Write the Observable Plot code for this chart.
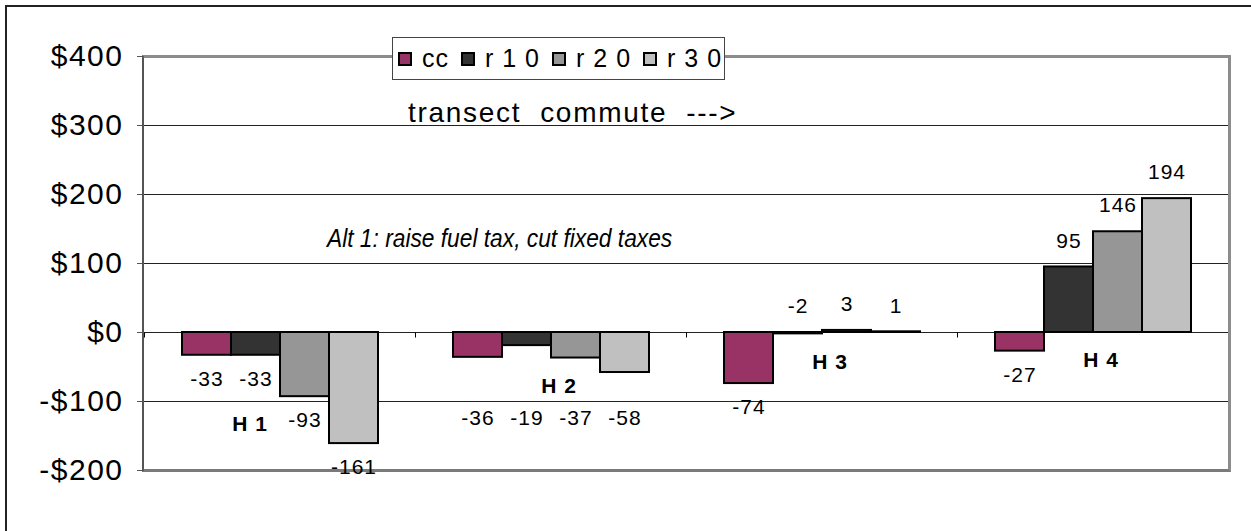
<!DOCTYPE html>
<html>
<head>
<meta charset="utf-8">
<script src="https://cdn.jsdelivr.net/npm/d3@7"></script>
<script src="https://cdn.jsdelivr.net/npm/@observablehq/plot@0.6"></script>
<style>
  body { margin: 0; background: #fff; font-family: "Liberation Sans", Arial, sans-serif; }
  #wrap { position: relative; width: 1251px; height: 531px; overflow: hidden; background: #fff; }
  #outer { position: absolute; left: 5px; top: 5px; width: 1400px; height: 700px;
           border-left: 2px solid #222; border-top: 2px solid #222; }
  #pframe { position: absolute; box-sizing: border-box;
            border-left: 2px solid #555; border-top: 3px solid #8c8c8c;
            border-right: 3px solid #8c8c8c; border-bottom: 3px solid #7a7a7a; }
  #chart { position: absolute; left: 0; top: 0; }
  #chart svg { background: transparent !important; }
  g[aria-label="y-axis tick label"] text { letter-spacing: 1.5px; }
  g[aria-label="text"] text { letter-spacing: 1px; }
  .note { position: absolute; white-space: pre; color: #000; line-height: 1; transform-origin: left top; }
  #legend { position: absolute; left: 392px; top: 37px; width: 333px; height: 43px; box-sizing: border-box;
            border: 1.5px solid #444; background: #fff; display: flex; align-items: center; padding-left: 5px;
            font-size: 25px; letter-spacing: 1px; z-index: 3; }
  #legend .sw { width: 14px; height: 14px; box-sizing: border-box; border: 2px solid #000; margin-right: 10px; flex: none; }
  #legend .lb { margin-right: 12px; white-space: pre; }
</style>
</head>
<body>
<div id="wrap">
  <div id="outer"></div>
  <div id="pframe"></div>
  <div id="chart"></div>
  <div id="legend"></div>
  <div class="note" id="n1" style="left:408px; top:99px; font-size:28px; letter-spacing:1.7px;">transect  commute  ---&gt;</div>
  <div class="note" id="n2" style="left:327px; top:226px; font-size:25px; font-style:italic; transform: scaleX(0.91);">Alt 1: raise fuel tax, cut fixed taxes</div>
</div>
<script>
// ---- data ----
const categories = ["H 1", "H 2", "H 3", "H 4"];
const seriesNames = ["cc", "r10", "r20", "r30"];
const legendLabels = ["cc", "r 1 0", "r 2 0", "r 3 0"];
const cc  = [-33, -36, -74, -27];
const r10 = [-33, -19, -2, 95];
const r20 = [-93, -37, 3, 146];
const r30 = [-161, -58, 1, 194];
const yTicks = [-200, -100, 0, 100, 200, 300, 400];
const colors = ["#993366", "#333333", "#969696", "#C0C0C0"];

// ---- layout ----
const W = 1251, H = 531;
const mLeft = 143, mRight = 22, mTop = 56, mBottom = 61;

const seriesValues = [cc, r10, r20, r30];
const rows = [];
categories.forEach((c, i) => seriesNames.forEach((s, j) => {
  const vals = seriesValues.map(a => a[i]);
  rows.push({cat: c, ser: s, v: seriesValues[j][i], shallow: vals.every(v => v <= 0 && v > -60), gmin: Math.min(...vals)});
}));
const above = rows.filter(d => d.v > -5);
const belowDeep = rows.filter(d => d.v <= -5 && !d.shallow);
const belowRow = rows.filter(d => d.v <= -5 && d.shallow);
const catRows = categories.map((c, i) => ({cat: c, low: Math.min(0, r10[i], r20[i])}));

const fmt = d => (d < 0 ? "-" : "") + "$" + Math.abs(d);
const tickSymbol = { draw(ctx) { ctx.moveTo(0, 0); ctx.lineTo(0, 5); } };

const chart = Plot.plot({
  width: W, height: H,
  marginLeft: mLeft, marginRight: mRight, marginTop: mTop, marginBottom: mBottom,
  style: { background: "transparent", fontFamily: "Liberation Sans, Arial, sans-serif", color: "#000" },
  fx: { domain: categories, padding: 0, axis: null },
  x: { domain: seriesNames, paddingInner: 0, paddingOuter: 0.75, axis: null },
  y: { domain: [-200, 400], axis: null },
  color: { domain: seriesNames, range: colors },
  marks: [
    Plot.ruleY(yTicks.filter(t => t > -200 && t < 400), { stroke: "#222", strokeWidth: 1 }),
    Plot.axisY({ ticks: yTicks, tickFormat: fmt, tickSize: 7, tickPadding: 14, fontSize: 30, stroke: "#555" }),
    Plot.barY(rows, { fx: "cat", x: "ser", y1: 0, y2: "v", fill: "ser", stroke: "#000", strokeWidth: 2 }),
    Plot.dot(catRows, { fx: "cat", y: () => 0, frameAnchor: "left", symbol: tickSymbol, fill: "none", stroke: "#000", strokeWidth: 1 }),
    Plot.text(above, { fx: "cat", x: "ser", y: d => Math.max(0, d.v), text: d => String(d.v), dy: -26, fontSize: 21, fill: "#000" }),
    Plot.text(belowDeep, { fx: "cat", x: "ser", y: "v", text: d => String(d.v), dy: 24, fontSize: 21, fill: "#000" }),
    Plot.text(belowRow, { fx: "cat", x: "ser", y: "gmin", text: d => String(d.v), dy: 46, fontSize: 21, fill: "#000" }),
    Plot.text(catRows.filter(d => d.low < -60), { fx: "cat", y: "low", text: "cat", dy: 28, dx: -30, fontSize: 21, fontWeight: "bold", fill: "#000" }),
    Plot.text(catRows.filter(d => d.low >= -60), { fx: "cat", y: "low", text: "cat", dy: 28, dx: 8, fontSize: 21, fontWeight: "bold", fill: "#000" })
  ]
});
document.getElementById("chart").appendChild(chart);

// plot frame aligned with margins
const pf = document.getElementById("pframe");
pf.style.left = (mLeft - 1) + "px";
pf.style.top = (mTop - 1.5) + "px";
pf.style.width = (W - mLeft - mRight + 2.5) + "px";
pf.style.height = (H - mTop - mBottom + 3) + "px";

// legend
const lg = document.getElementById("legend");
seriesNames.forEach((s, i) => {
  const sw = document.createElement("div");
  sw.className = "sw"; sw.style.background = colors[i];
  const lb = document.createElement("div");
  lb.className = "lb"; lb.textContent = legendLabels[i];
  lg.appendChild(sw); lg.appendChild(lb);
});
</script>
</body>
</html>
